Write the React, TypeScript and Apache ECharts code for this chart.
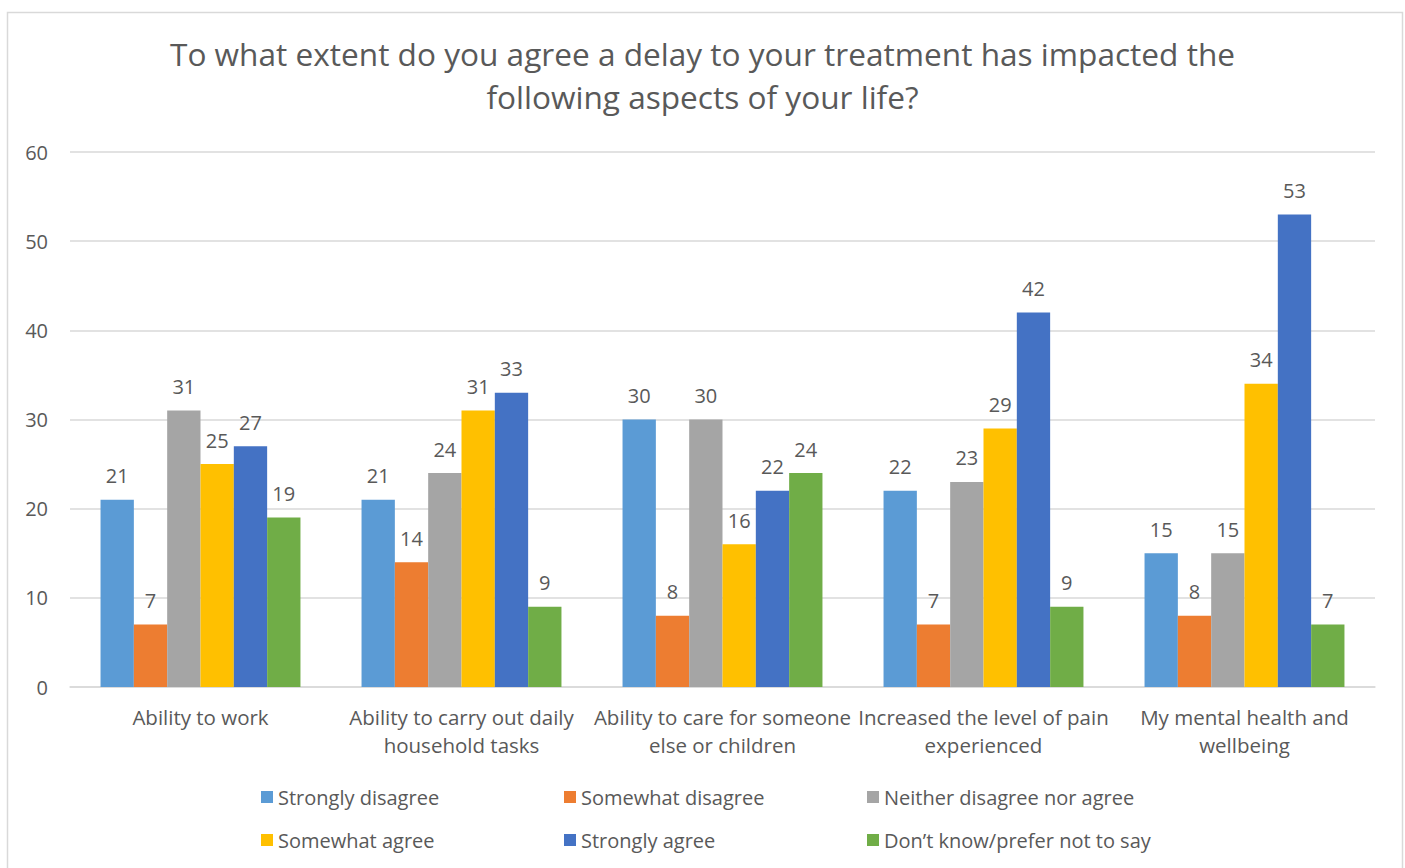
import React, { useEffect, useRef } from "react";
import * as echarts from "echarts";

const categories = [
  "Ability to work",
  "Ability to carry out daily\nhousehold tasks",
  "Ability to care for someone\nelse or children",
  "Increased the level of pain\nexperienced",
  "My mental health and\nwellbeing",
];
const seriesNames = [
  "Strongly disagree",
  "Somewhat disagree",
  "Neither disagree nor agree",
  "Somewhat agree",
  "Strongly agree",
  "Don’t know/prefer not to say",
];
const stronglyDisagree = [21, 21, 30, 22, 15];
const somewhatDisagree = [7, 14, 8, 7, 8];
const neither = [31, 24, 30, 23, 15];
const somewhatAgree = [25, 31, 16, 29, 34];
const stronglyAgree = [27, 33, 22, 42, 53];
const dontKnow = [19, 9, 24, 9, 7];
const seriesValues = [stronglyDisagree, somewhatDisagree, neither, somewhatAgree, stronglyAgree, dontKnow];
const colors = ["#5B9BD5", "#ED7D31", "#A5A5A5", "#FFC000", "#4472C4", "#70AD47"];
const yTicks = { min: 0, max: 60, interval: 10 };
const titleText = "To what extent do you agree a delay to your treatment has impacted the\nfollowing aspects of your life?";

const FONT = "'Open Sans', 'Noto Sans', sans-serif";
const TXT = "#595959";

export default function App() {
  const ref = useRef<HTMLDivElement>(null);
  useEffect(() => {
    document.body.style.margin = "0";
    const chart = echarts.init(ref.current!, null, { renderer: "svg" });
    const legendPos = [
      [256, 782], [559, 782], [862, 782],
      [256, 825], [559, 825], [862, 825],
    ];
    chart.setOption({
      animation: false,
      color: colors,
      textStyle: { fontFamily: FONT },
      title: {
        text: titleText,
        left: "center",
        top: 27,
        textStyle: { fontSize: 31.6, fontWeight: "normal", color: TXT, lineHeight: 43, fontFamily: FONT },
      },
      graphic: [
        {
          type: "rect",
          shape: { x: 7.5, y: 12.5, width: 1395, height: 870 },
          style: { fill: "none", stroke: "#D9D9D9", lineWidth: 1.5 },
          silent: true,
        },
      ],
      legend: seriesNames.map((n, i) => ({
        data: [n],
        left: legendPos[i][0],
        top: legendPos[i][1],
        itemWidth: 12,
        itemHeight: 12,
        itemGap: 6,
        icon: "rect",
        textStyle: { fontSize: 20, color: TXT, fontFamily: FONT, padding: [0, 0, 0, 0] },
      })),
      grid: { left: 70, right: 30, top: 152, bottom: 181 },
      xAxis: {
        type: "category",
        data: categories,
        axisTick: { show: false },
        axisLine: { lineStyle: { color: "#D9D9D9", width: 1.5 } },
        axisLabel: { fontSize: 20.5, color: TXT, lineHeight: 28, margin: 16, interval: 0, fontFamily: FONT },
      },
      yAxis: {
        type: "value",
        min: yTicks.min,
        max: yTicks.max,
        interval: yTicks.interval,
        axisLine: { show: false },
        axisTick: { show: false },
        splitLine: { lineStyle: { color: "#D9D9D9", width: 1.5 } },
        axisLabel: { fontSize: 20, color: TXT, margin: 22, fontFamily: FONT },
      },
      series: seriesNames.map((n, i) => ({
        name: n,
        type: "bar",
        data: seriesValues[i],
        barGap: "0%",
        barCategoryGap: "23.4%",
        itemStyle: { color: colors[i] },
        label: {
          show: true,
          position: "top",
          distance: 14,
          fontSize: 20,
          color: TXT,
          fontFamily: FONT,
        },
      })),
    });
    return () => chart.dispose();
  }, []);
  return <div ref={ref} style={{ width: 1405, height: 868 }} />;
}
